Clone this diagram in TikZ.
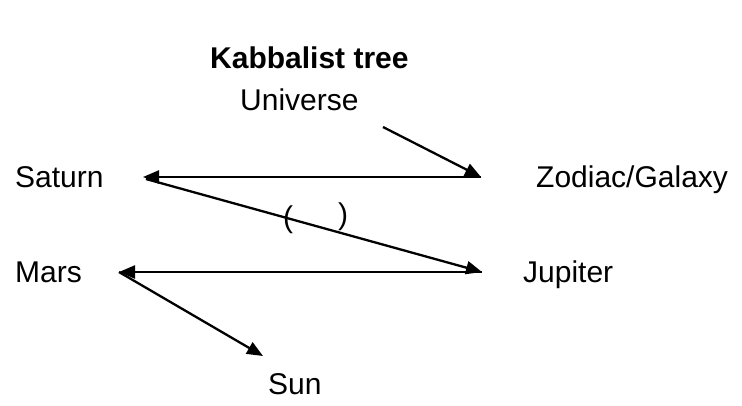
\documentclass[tikz,border=0pt]{standalone}
\usepackage{fontspec}
\setmainfont{Liberation Sans}
\usetikzlibrary{arrows.meta,positioning}
\tikzset{
  treelabel/.style={inner sep=0pt, anchor=base west, font=\fontsize{30}{36}\selectfont},
  treetitle/.style={treelabel, font=\fontsize{30}{36}\selectfont\bfseries},
  treearrow/.style={-{Triangle[length=16pt, width=13pt]}, line width=2.3pt}
}
\begin{document}
\begin{tikzpicture}[x=1pt, y=-1pt]
\useasboundingbox (0,0) rectangle (742,405);
% labels
\node[treetitle] (title) at (210,68) {Kabbalist tree};
\node[treelabel] (universe) at (240,110) {Universe};
\node[treelabel] (saturn) at (15,187) {Saturn};
\node[treelabel] (zodiac) at (536,187) {Zodiac/Galaxy};
\node[treelabel] (mars) at (15,282) {Mars};
\node[treelabel] (jupiter) at (523,282) {Jupiter};
\node[treelabel] (sun) at (268,394) {Sun};
\node[treelabel] (lparen) at (283,227) {(};
\node[treelabel] (rparen) at (338,224) {)};
% arrow ends
\coordinate (univout) at (383,127);
\coordinate (zodiacend) at (481,177);
\coordinate (saturnend) at (143,177);
\coordinate (saturnout) at (146,179);
\coordinate (jupiterend) at (482,272);
\coordinate (marsend) at (119,272);
\coordinate (sunend) at (263,356);
% arrows
\draw[treearrow] (univout) -- (zodiacend);
\draw[treearrow] (zodiacend) -- (saturnend);
\draw[treearrow] (saturnout) -- (jupiterend);
\draw[treearrow] (jupiterend) -- (marsend);
\draw[treearrow] (marsend) -- (sunend);
\end{tikzpicture}
\end{document}
